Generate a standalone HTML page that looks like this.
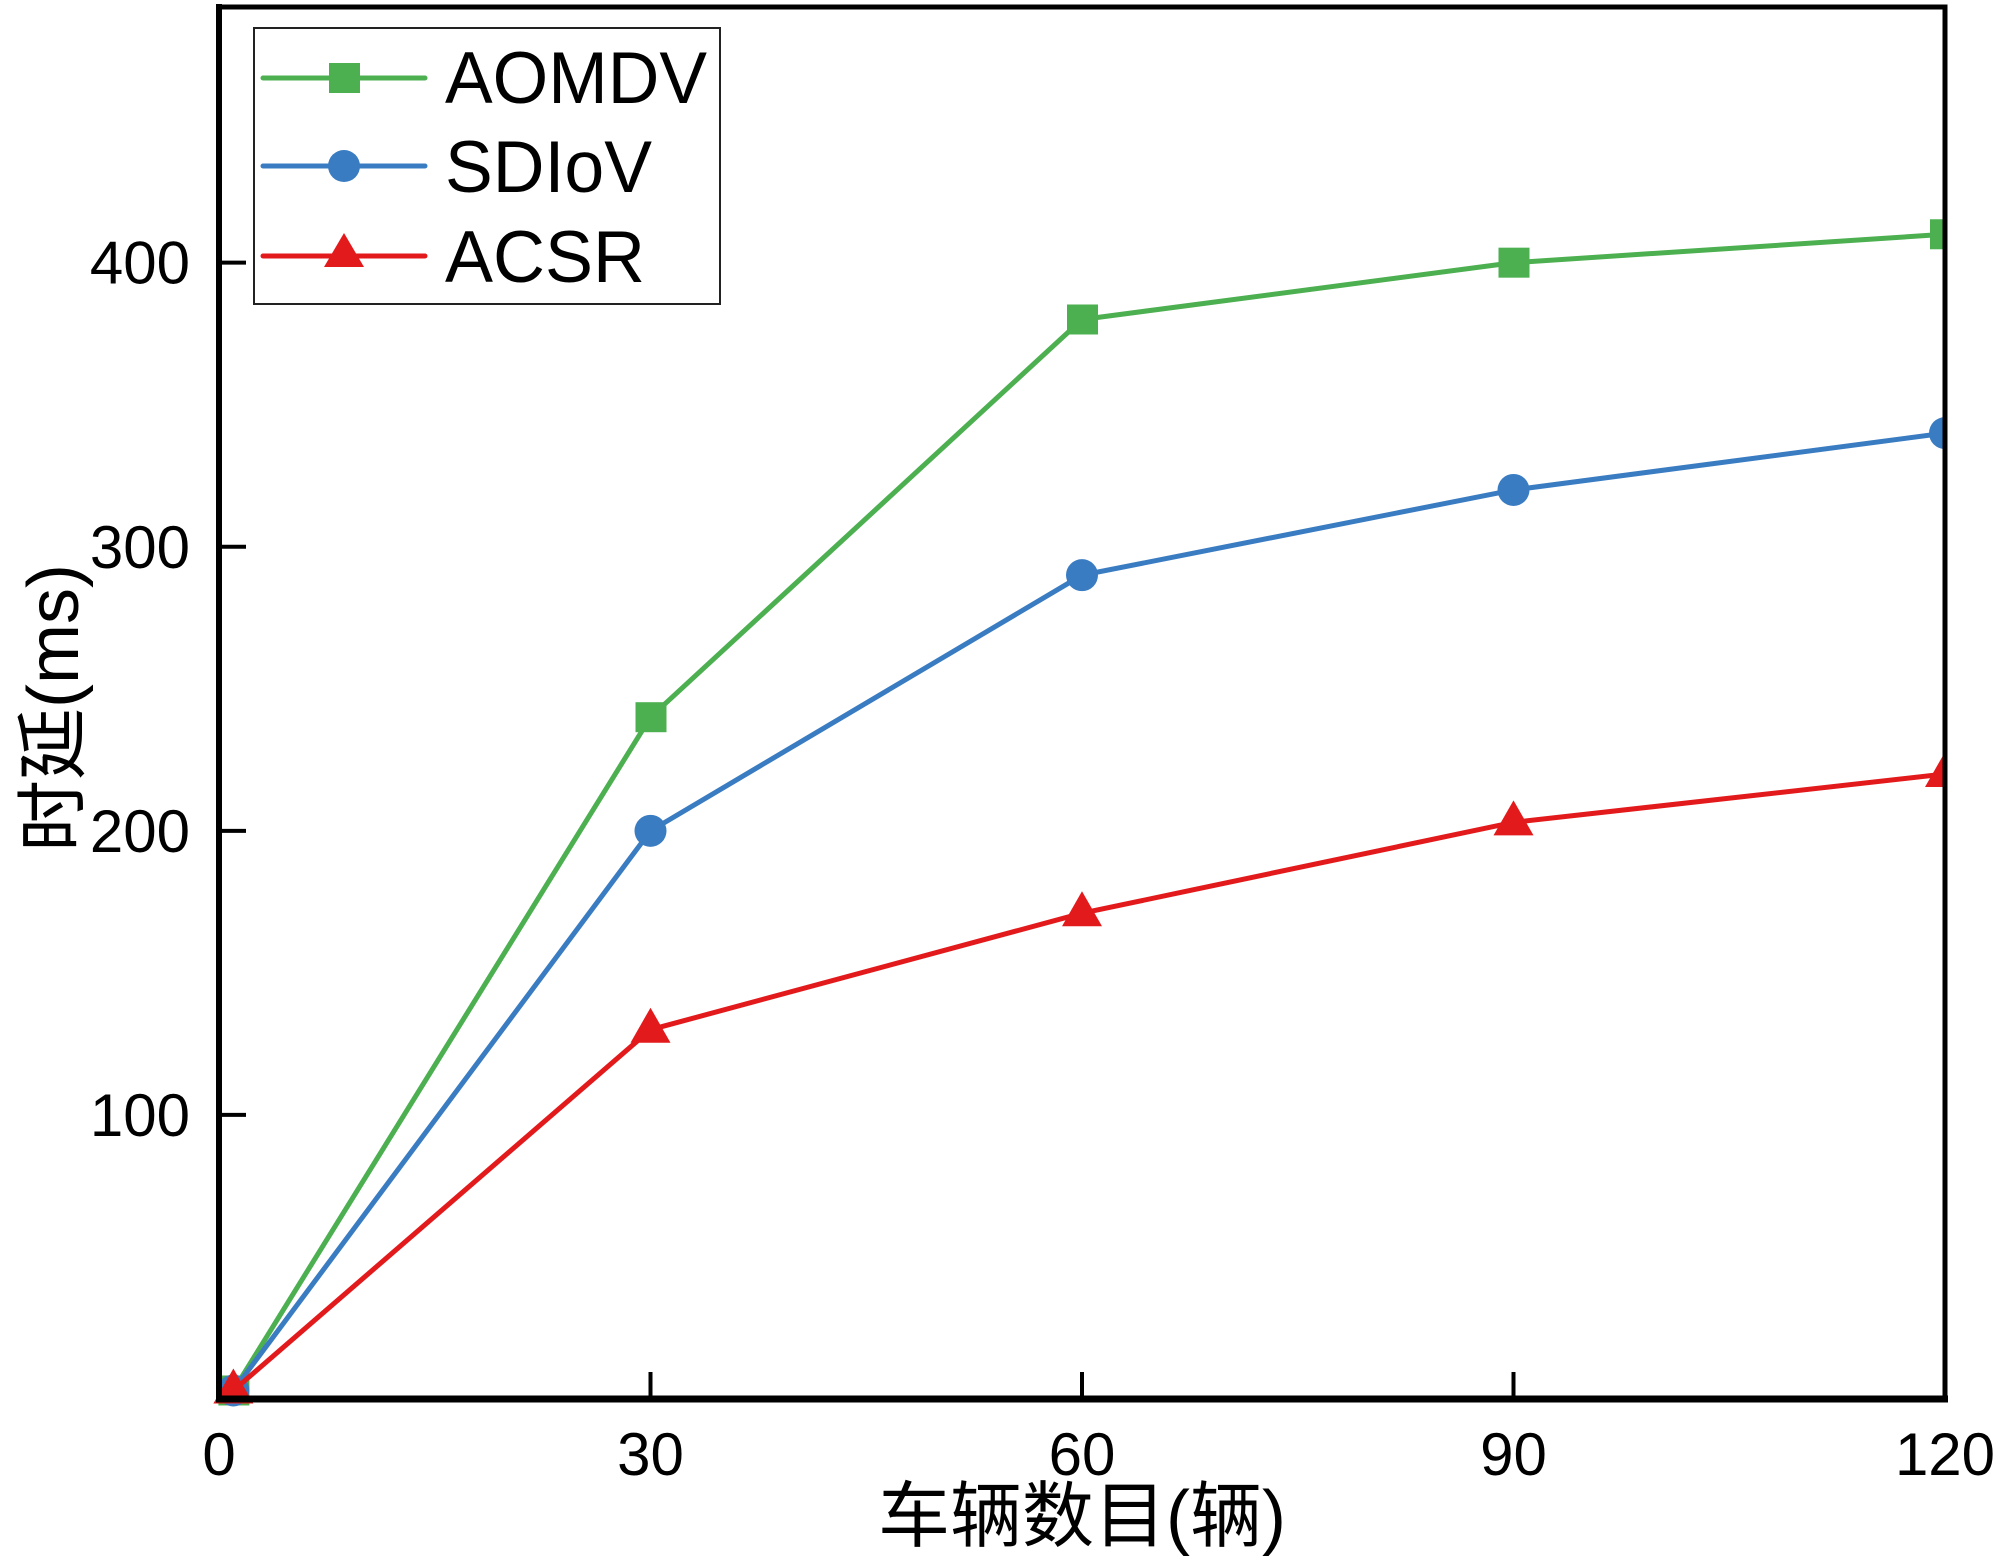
<!DOCTYPE html>
<html><head><meta charset="utf-8"><style>
html,body{margin:0;padding:0;background:#fff;}
svg{display:block;}
text{font-family:"Liberation Sans","Noto Sans CJK SC",sans-serif;fill:#000;}
</style></head><body>
<svg id="chart" width="2000" height="1561" viewBox="0 0 2000 1561" xmlns="http://www.w3.org/2000/svg">
<defs><clipPath id="plotclip"><rect x="150" y="7" width="1795" height="1420"/></clipPath></defs>
<g id="marks" clip-path="url(#plotclip)"></g>
<rect x="219" y="7" width="1726" height="1392" fill="none" stroke="#000" stroke-width="5"/>
<line x1="216" y1="1399" x2="1948" y2="1399" stroke="#000" stroke-width="7"/>
<line x1="219" y1="4" x2="219" y2="1402" stroke="#000" stroke-width="6"/>
<g id="axes"></g>
<text x="1082" y="1541" font-size="72" text-anchor="middle">车辆数目(辆)</text>
<text transform="translate(78,708) rotate(-90)" font-size="72" text-anchor="middle">时延(ms)</text>
<g>
<rect x="254" y="28" width="466" height="276" fill="#fff" stroke="#222" stroke-width="2"/>
<g>
<line x1="263" y1="78" x2="425" y2="78" stroke="#4caf50" stroke-width="5" stroke-linecap="round"/>
<rect x="329" y="63" width="31" height="30" fill="#4caf50"/>
<text x="445" y="103" font-size="73" textLength="262" lengthAdjust="spacingAndGlyphs">AOMDV</text></g>
<g>
<line x1="263" y1="166" x2="425" y2="166" stroke="#3a7cc2" stroke-width="5" stroke-linecap="round"/>
<circle cx="344" cy="166" r="16" fill="#3a7cc2"/>
<text x="445" y="192" font-size="73" textLength="207" lengthAdjust="spacingAndGlyphs">SDIoV</text></g>
<g>
<line x1="263" y1="256" x2="425" y2="256" stroke="#e31a1c" stroke-width="5" stroke-linecap="round"/>
<polygon points="344,233 364,267 324,267" fill="#e31a1c"/>
<text x="445" y="282" font-size="73" textLength="200" lengthAdjust="spacingAndGlyphs">ACSR</text></g>
</g>
</svg>
<script>
const categories=[1,30,60,90,120];
const aomdv=[3,240,380,400,410];
const sdiov=[3,200,290,320,340];
const acsr=[3,130,171,203,220];
const xTicks=[0,30,60,90,120];
const yTicks=[100,200,300,400];
const NS="http://www.w3.org/2000/svg";
const X=v=>219+v*(1945-219)/120;
const Y=v=>1399-v*(1399-7)/490;
const marks=document.getElementById('marks');
const axes=document.getElementById('axes');
function mk(t,a,p){const e=document.createElementNS(NS,t);for(const k in a)e.setAttribute(k,a[k]);p.appendChild(e);return e;}
xTicks.forEach(t=>{
 const l=mk('line',{x1:X(t),x2:X(t),y1:1399,y2:1372,stroke:'#000','stroke-width':4},axes);
 
 
 const tx=mk('text',{x:X(t),y:1475,'font-size':60,'text-anchor':'middle'},axes);
 tx.textContent=t;
 
 
});
yTicks.forEach(t=>{
 const l=mk('line',{x1:219,x2:246,y1:Y(t),y2:Y(t),stroke:'#000','stroke-width':4},axes);
 
 
 const tx=mk('text',{x:190,y:Y(t)+21,'font-size':60,'text-anchor':'end'},axes);
 tx.textContent=t;
 
 
});
function series(vals,color,shape,name){
 const g=mk('g',{},marks);
 
 
 const pl=mk('polyline',{points:vals.map((v,i)=>X(categories[i])+','+Y(v)).join(' '),fill:'none',stroke:color,'stroke-width':5},g);
 
 
 vals.forEach((v,i)=>{
  const cx=X(categories[i]),cy=Y(v);let m;
  if(shape==='sq')m=mk('rect',{x:cx-15,y:cy-15,width:31,height:30,fill:color},g);
  else if(shape==='ci')m=mk('circle',{cx:cx,cy:cy,r:16,fill:color},g);
  else m=mk('polygon',{points:`${cx},${cy-22} ${cx+20},${cy+13} ${cx-20},${cy+13}`,fill:color},g);
  
  
 });
}
series(aomdv,'#4caf50','sq','aomdv');
series(sdiov,'#3a7cc2','ci','sdiov');
series(acsr,'#e31a1c','tr','acsr');
</script>
</body></html>
